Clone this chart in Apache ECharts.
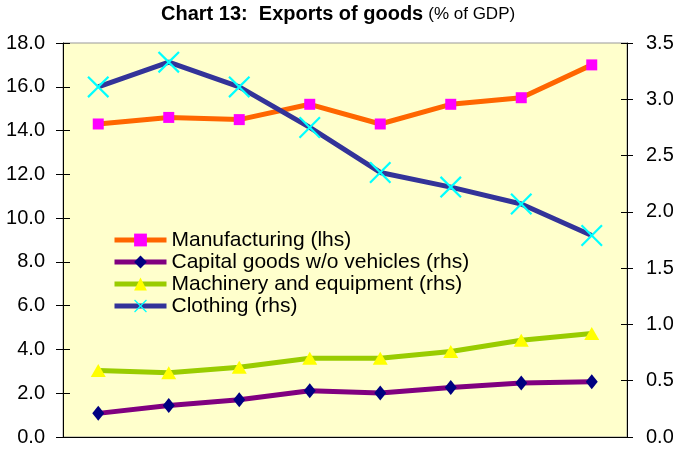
<!DOCTYPE html>
<html>
<head>
<meta charset="utf-8">
<script src="https://cdn.jsdelivr.net/npm/echarts@6/dist/echarts.min.js"></script>
<style>
html,body{margin:0;padding:0;background:#fff;}
#chart{width:673px;height:450px;}
</style>
</head>
<body>
<div id="chart"></div>
<script>
const categories = ['1','2','3','4','5','6','7','8'];
const manufacturing = [14.3, 14.6, 14.5, 15.2, 14.3, 15.2, 15.5, 17.0];
const capitalGoods = [0.21, 0.28, 0.33, 0.41, 0.39, 0.44, 0.48, 0.49];
const machinery = [0.59, 0.57, 0.62, 0.70, 0.70, 0.76, 0.86, 0.92];
const clothing = [3.11, 3.33, 3.11, 2.75, 2.35, 2.22, 2.07, 1.79];
const seriesNames = ['Manufacturing (lhs)', 'Capital goods w/o vehicles (rhs)', 'Machinery and equipment (rhs)', 'Clothing (rhs)'];
const leftTicks = {min: 0, max: 18, interval: 2};
const rightTicks = {min: 0, max: 3.5, interval: 0.5};

const FONT = '"Liberation Sans", Arial, sans-serif';
const xPath = 'path://M0,1.4L1.4,0L10,8.6L18.6,0L20,1.4L11.4,10L20,18.6L18.6,20L10,11.4L1.4,20L0,18.6L8.6,10Z';

const chart = echarts.init(document.getElementById('chart'), null, {renderer: 'canvas'});

function yAx(pos, t, main, inside, len) {
  return {
    type: 'value', position: pos, min: t.min, max: t.max, interval: t.interval,
    splitLine: {show: false},
    axisLine: {show: main, lineStyle: {color: '#000', width: 1}},
    axisTick: {show: true, inside: inside, length: len, lineStyle: {color: '#000', width: 1}},
    axisLabel: {show: main, color: '#000', fontSize: 20, fontFamily: FONT, margin: pos === 'left' ? 18 : 19,
      formatter: v => v.toFixed(1)}
  };
}

chart.setOption({
  animation: false,
  backgroundColor: '#fff',
  title: {
    text: '{b|Chart 13:  Exports of goods} {n|(% of GDP)}',
    left: 161, top: 4, padding: 0,
    textStyle: {
      rich: {
        b: {fontFamily: FONT, fontWeight: 'bold', fontSize: 20, color: '#000'},
        n: {fontFamily: FONT, fontWeight: 'normal', fontSize: 17, color: '#000'}
      }
    }
  },
  grid: {left: 63, right: 46, top: 43, bottom: 13, containLabel: false, outerBoundsMode: 'none',
         show: true, backgroundColor: '#FFFFCC', borderColor: '#999', borderWidth: 1},
  legend: {
    orient: 'vertical', left: 112, top: 229, padding: 0, itemGap: 0,
    itemWidth: 52, itemHeight: 16,
    data: seriesNames,
    lineStyle: {width: 5},
    textStyle: {fontFamily: FONT, fontSize: 21, color: '#000', lineHeight: 22}
  },
  xAxis: [
    {type: 'category', data: categories, boundaryGap: true, position: 'bottom',
     axisLine: {onZero: false, lineStyle: {color: '#000'}},
     axisTick: {inside: true, length: 8, lineStyle: {color: '#000'}},
     axisLabel: {show: false}, splitLine: {show: false}},
    {type: 'category', data: categories, boundaryGap: true, position: 'bottom',
     axisLine: {show: false, onZero: false},
     axisTick: {inside: false, length: 3, lineStyle: {color: '#000'}},
     axisLabel: {show: false}, splitLine: {show: false}}
  ],
  yAxis: [
    yAx('left', leftTicks, true, false, 7),
    yAx('right', rightTicks, true, false, 6),
    yAx('left', leftTicks, false, true, 7),
    yAx('right', rightTicks, false, true, 6)
  ],
  series: [
    {name: seriesNames[0], type: 'line', data: manufacturing, yAxisIndex: 0, xAxisIndex: 0,
     symbol: 'rect', symbolSize: 11,
     lineStyle: {color: '#FF6600', width: 5}, itemStyle: {color: '#FF00FF'}},
    {name: seriesNames[1], type: 'line', data: capitalGoods, yAxisIndex: 1, xAxisIndex: 0,
     symbol: 'diamond', symbolSize: [12, 15],
     lineStyle: {color: '#800080', width: 5}, itemStyle: {color: '#000080'}},
    {name: seriesNames[2], type: 'line', data: machinery, yAxisIndex: 1, xAxisIndex: 0,
     symbol: 'triangle', symbolSize: [15, 13],
     lineStyle: {color: '#99CC00', width: 5}, itemStyle: {color: '#FFFF00'}},
    {name: seriesNames[3], type: 'line', data: clothing, yAxisIndex: 1, xAxisIndex: 0,
     symbol: xPath, symbolSize: 22,
     lineStyle: {color: '#333399', width: 5}, itemStyle: {color: '#00FFFF'}}
  ]
});
</script>
</body>
</html>
